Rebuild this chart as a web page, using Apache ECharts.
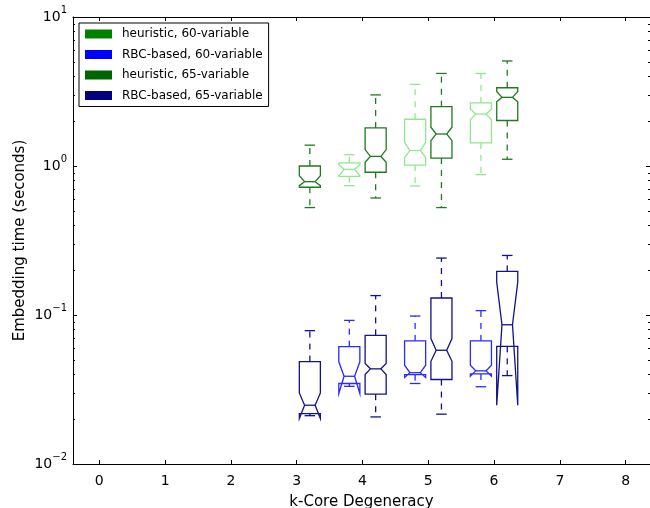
<!DOCTYPE html>
<html>
<head>
    <meta charset="utf-8">
    <title>Embedding time</title>
    <script src="https://cdn.jsdelivr.net/npm/echarts@6/dist/echarts.min.js"></script>
</head>
<body style="margin:0">
    <div id="main" style="width: 650px;height:508px;"></div>
    <script type="text/javascript">
    // box stats per k: [low, q1, notchLo, median, notchHi, q3, high]
    var heurK60 = [4, 5, 6];
    var heur60 = [
        [0.738, 0.853, 0.86, 0.95, 1.02, 1.05, 1.19],
        [0.735, 1.015, 1.14, 1.27, 1.44, 2.06, 3.53],
        [0.875, 1.43, 2.04, 2.23, 2.41, 2.65, 4.18]
    ];
    var rbcK60 = [4, 5, 6];
    var rbc60 = [
        [0.0332, 0.0347, 0.0297, 0.0388, 0.0485, 0.0613, 0.092],
        [0.0347, 0.0398, 0.0380, 0.041, 0.046, 0.067, 0.0984],
        [0.033, 0.0402, 0.0388, 0.0422, 0.046, 0.067, 0.107]
    ];
    var heurK65 = [3, 4, 5, 6];
    var heur65 = [
        [0.526, 0.72, 0.738, 0.785, 0.86, 1.0, 1.38],
        [0.61, 0.908, 1.06, 1.16, 1.29, 1.80, 3.0],
        [0.526, 1.13, 1.48, 1.64, 1.82, 2.50, 4.18],
        [1.11, 2.02, 2.70, 2.89, 3.16, 3.35, 5.07]
    ];
    var rbcK65 = [3, 4, 5, 6];
    var rbc65 = [
        [0.0211, 0.0218, 0.0202, 0.0248, 0.030, 0.0487, 0.0785],
        [0.0207, 0.0294, 0.0398, 0.0435, 0.0472, 0.073, 0.135],
        [0.0216, 0.0369, 0.0489, 0.058, 0.0694, 0.130, 0.241],
        [0.0392, 0.0616, 0.0248, 0.086, 0.166, 0.196, 0.251]
    ];
    var xTicks = [0, 1, 2, 3, 4, 5, 6, 7, 8];
    var yMajor = [0.01, 0.1, 1, 10];
    var yMinor = [];
    [0.01, 0.1, 1].forEach(function (d) {
        [2, 3, 4, 5, 6, 7, 8, 9].forEach(function (m) { yMinor.push(+(d * m).toPrecision(3)); });
    });

    var BOX_W = 0.32;
    var FONT = 'DejaVu Sans';

    function toData(ks, stats, offset) {
        return ks.map(function (k, i) { return [k + offset].concat(stats[i]); });
    }

    function boxRenderer(color) {
        return function (params, api) {
            var x = api.value(0);
            var low = api.value(1), q1 = api.value(2), nLo = api.value(3), med = api.value(4),
                nHi = api.value(5), q3 = api.value(6), high = api.value(7);
            var hw = BOX_W / 2, cw = BOX_W / 4;
            function p(dx, v) { return api.coord([x + dx, v]); }
            function seg(a, b, dash) {
                return {
                    type: 'line',
                    shape: { x1: a[0], y1: a[1], x2: b[0], y2: b[1] },
                    style: { stroke: color, lineWidth: 1.3, lineDash: dash || null, fill: null }
                };
            }
            var pts = [p(-hw, q1), p(-hw, nLo), p(-cw, med), p(-hw, nHi), p(-hw, q3),
                       p(hw, q3), p(hw, nHi), p(cw, med), p(hw, nLo), p(hw, q1)];
            return {
                type: 'group',
                children: [
                    seg(p(0, q3), p(0, high), [6, 6]),
                    seg(p(0, q1), p(0, low), [6, 6]),
                    seg(p(-cw, high), p(cw, high)),
                    seg(p(-cw, low), p(cw, low)),
                    { type: 'polygon', shape: { points: pts },
                      style: { fill: null, stroke: color, lineWidth: 1.3 } },
                    seg(p(-cw, med), p(cw, med))
                ]
            };
        };
    }

    var myChart = echarts.init(document.getElementById('main'));

    var supFmt = function (v) {
        var e = Math.round(Math.log(v) / Math.LN10);
        return '{b|10}{s|' + (e < 0 ? '\u2212' + (-e) : e) + '}';
    };

    function sideAxis(pos, len, ticks) {
        return {
            type: 'log', logBase: 10, min: 0.01, max: 10, position: pos,
            axisLine: { show: len === 4, onZero: false, lineStyle: { color: '#000', width: 1 } },
            axisTick: { inside: true, length: len, customValues: ticks, lineStyle: { color: '#000' } },
            axisLabel: { show: false },
            splitLine: { show: false }
        };
    }

    var option = {
        animation: false,
        backgroundColor: '#fff',
        textStyle: { fontFamily: FONT },
        grid: { left: 73, top: 17, width: 577, height: 447, outerBoundsMode: 'none', containLabel: false },
        legend: {
            orient: 'vertical', left: 79, top: 23,
            padding: [5, 6, 5, 6], itemGap: 8.5, itemWidth: 27, itemHeight: 9,
            backgroundColor: '#fff', borderColor: '#000', borderWidth: 1, borderRadius: 0,
            icon: 'rect',
            formatter: function (name) { return '{g|}' + name; },
            textStyle: {
                fontFamily: FONT, fontSize: 12, color: '#000',
                rich: { g: { width: 5 } }
            },
            data: [
                { name: 'heuristic, 60-variable', itemStyle: { color: '#008000' } },
                { name: 'RBC-based, 60-variable', itemStyle: { color: '#0000ff' } },
                { name: 'heuristic, 65-variable', itemStyle: { color: '#006400' } },
                { name: 'RBC-based, 65-variable', itemStyle: { color: '#000080' } }
            ]
        },
        xAxis: [{
            type: 'value', min: -0.4, max: 8.37, position: 'bottom',
            name: 'k-Core Degeneracy', nameLocation: 'middle', nameGap: 31, nameMoveOverlap: false,
            nameTextStyle: { fontFamily: FONT, fontSize: 15, color: '#000' },
            axisLine: { onZero: false, lineStyle: { color: '#000', width: 1 } },
            axisTick: { inside: true, length: 4, customValues: xTicks, lineStyle: { color: '#000' } },
            axisLabel: { customValues: xTicks, fontFamily: FONT, fontSize: 14, color: '#000', margin: 10 },
            splitLine: { show: false }
        }, {
            type: 'value', min: -0.4, max: 8.37, position: 'top',
            axisLine: { onZero: false, lineStyle: { color: '#000', width: 1 } },
            axisTick: { inside: true, length: 4, customValues: xTicks, lineStyle: { color: '#000' } },
            axisLabel: { show: false },
            splitLine: { show: false }
        }],
        yAxis: [{
            type: 'log', logBase: 10, min: 0.01, max: 10, position: 'left',
            name: 'Embedding time (seconds)', nameLocation: 'middle', nameGap: 45, nameRotate: 90,
            nameMoveOverlap: false,
            nameTextStyle: { fontFamily: FONT, fontSize: 15, color: '#000' },
            axisLine: { onZero: false, lineStyle: { color: '#000', width: 1 } },
            axisTick: { inside: true, length: 4, customValues: yMajor, lineStyle: { color: '#000' } },
            axisLabel: {
                customValues: yMajor, margin: 6, formatter: supFmt,
                rich: {
                    b: { fontFamily: FONT, fontSize: 14, color: '#000', lineHeight: 24 },
                    s: { fontFamily: FONT, fontSize: 10, color: '#000', verticalAlign: 'top' }
                }
            },
            splitLine: { show: false }
        },
            sideAxis('left', 2, yMinor),
            sideAxis('right', 4, yMajor),
            sideAxis('right', 2, yMinor)
        ],
        series: [{
            name: 'heuristic, 60-variable', type: 'custom',
            itemStyle: { color: '#008000' },
            renderItem: boxRenderer('#8fe88f'),
            encode: { x: 0, y: [1, 2, 3, 4, 5, 6, 7] },
            data: toData(heurK60, heur60, -0.2)
        }, {
            name: 'RBC-based, 60-variable', type: 'custom',
            itemStyle: { color: '#0000ff' },
            renderItem: boxRenderer('#2a2aff'),
            encode: { x: 0, y: [1, 2, 3, 4, 5, 6, 7] },
            data: toData(rbcK60, rbc60, -0.2)
        }, {
            name: 'heuristic, 65-variable', type: 'custom',
            itemStyle: { color: '#006400' },
            renderItem: boxRenderer('#1f7a1f'),
            encode: { x: 0, y: [1, 2, 3, 4, 5, 6, 7] },
            data: toData(heurK65, heur65, 0.2)
        }, {
            name: 'RBC-based, 65-variable', type: 'custom',
            itemStyle: { color: '#000080' },
            renderItem: boxRenderer('#12128a'),
            encode: { x: 0, y: [1, 2, 3, 4, 5, 6, 7] },
            data: toData(rbcK65, rbc65, 0.2)
        }]
    };

    myChart.setOption(option);
    </script>
</body>
</html>
